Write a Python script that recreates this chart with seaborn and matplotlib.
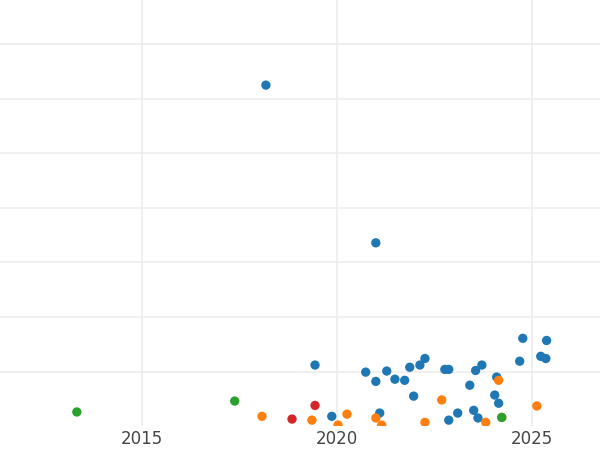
import matplotlib
matplotlib.use("Agg")
import matplotlib.pyplot as plt
import seaborn as sns
import pandas as pd

blue_x = [2018.18, 2021.0, 2019.44, 2019.87, 2020.74, 2021.0, 2021.10, 2021.28, 2021.49, 2021.74, 2021.87, 2021.97,
          2022.13, 2022.26, 2022.77, 2022.87, 2022.87, 2023.10, 2023.41, 2023.51, 2023.56, 2023.62, 2023.72,
          2024.10, 2024.05, 2024.15, 2024.69, 2024.77, 2025.23, 2025.36, 2025.38]
blue_y = [6.25, 3.36, 1.12, 0.18, 0.99, 0.82, 0.24, 1.01, 0.86, 0.84, 1.08, 0.55,
          1.12, 1.24, 1.04, 1.04, 0.11, 0.24, 0.75, 0.29, 1.02, 0.15, 1.12,
          0.90, 0.57, 0.42, 1.19, 1.61, 1.28, 1.24, 1.57]
orange_x = [2018.08, 2019.36, 2020.03, 2020.26, 2021.0, 2021.15, 2022.26, 2022.69, 2023.82, 2024.15, 2024.23, 2025.13]
orange_y = [0.18, 0.11, 0.02, 0.22, 0.15, 0.02, 0.07, 0.48, 0.07, 0.84, 0.16, 0.37]
green_x = [2013.33, 2017.38, 2024.23]
green_y = [0.26, 0.46, 0.16]
red_x = [2018.85, 2019.44]
red_y = [0.13, 0.38]

groups = [("a", blue_x, blue_y), ("b", orange_x, orange_y), ("c", green_x, green_y), ("d", red_x, red_y)]
df = pd.concat([pd.DataFrame({"x": gx, "y": gy, "g": g}) for g, gx, gy in groups])
palette = {"a": "#1f77b4", "b": "#ff7f0e", "c": "#2ca02c", "d": "#d62728"}

sns.set_style("white")
fig = plt.figure(figsize=(6, 4.5), dpi=100)
ax = fig.add_axes([0, 0.053, 1, 0.947])
sns.scatterplot(data=df, x="x", y="y", hue="g", palette=palette, s=45, edgecolor="none",
                legend=False, ax=ax, zorder=3)
ax.set_xlim(2011.36, 2026.75)
ax.set_ylim(0, 7.81)
ax.set_xticks([2015, 2020, 2025])
ax.set_yticks([1, 2, 3, 4, 5, 6, 7])
ax.set_yticklabels([])
ax.grid(True, color="#ececec", linewidth=1.1)
ax.set_axisbelow(True)
for s in ax.spines.values():
    s.set_visible(False)
ax.tick_params(axis="x", length=0, labelsize=12, labelcolor="#444444", pad=3)
ax.tick_params(axis="y", length=0)
ax.set_xlabel("")
ax.set_ylabel("")
fig.savefig("out.png", dpi=100)
